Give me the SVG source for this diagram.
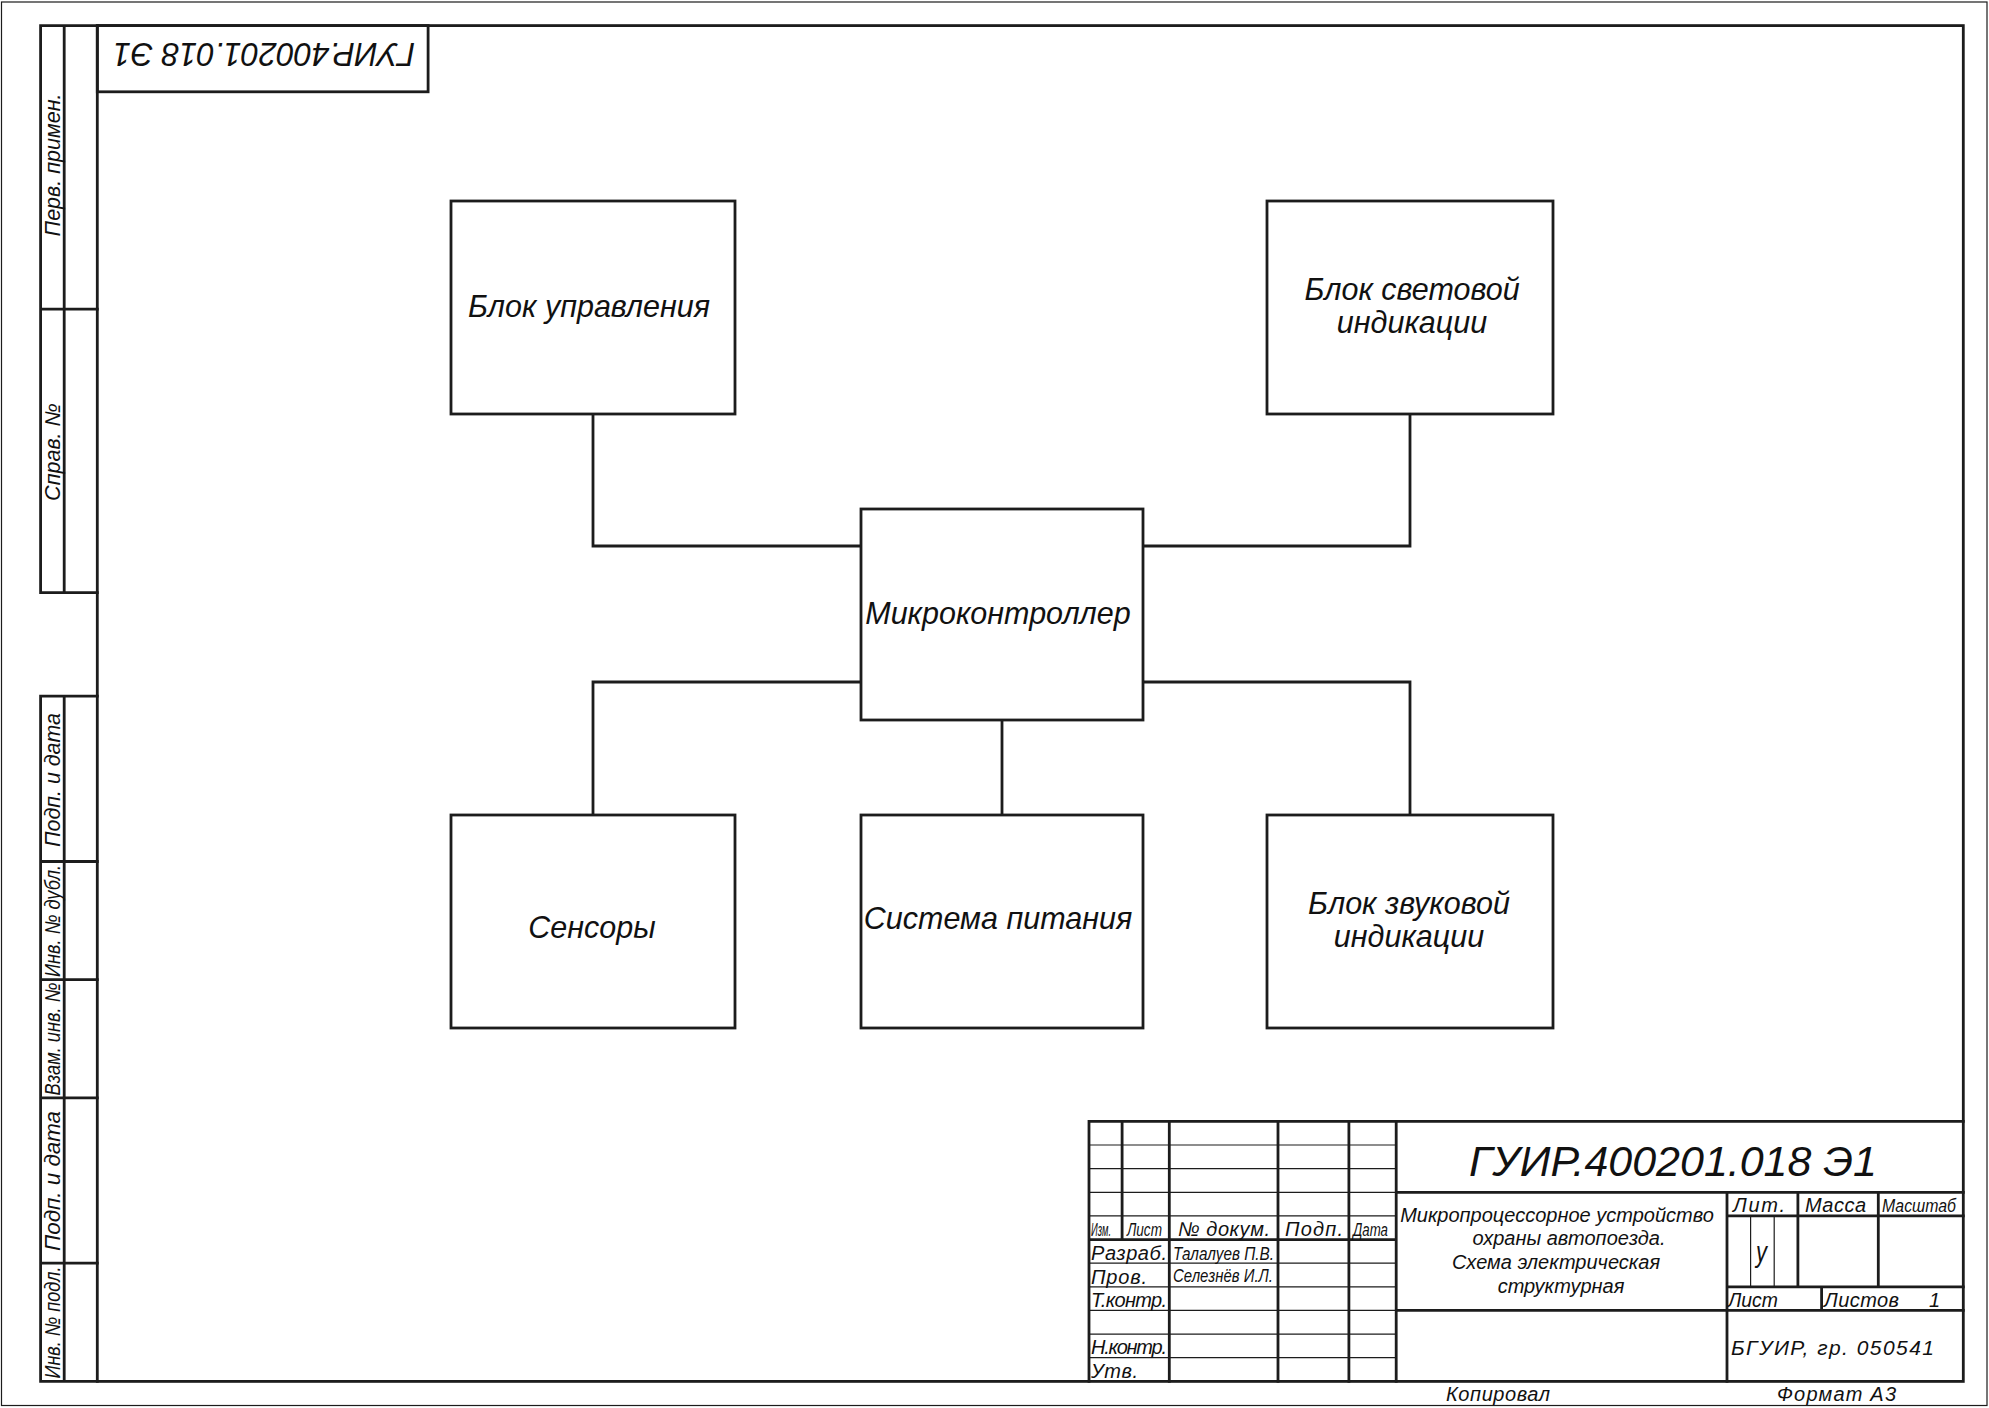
<svg xmlns="http://www.w3.org/2000/svg" width="1989" height="1408" viewBox="0 0 1989 1408">
  <style>
    .k { stroke: #1c1c1c; stroke-width: 2.8; fill: none; stroke-linecap: square; }
    .t { stroke: #1c1c1c; stroke-width: 1.2; fill: none; }
    .box { stroke: #1c1c1c; stroke-width: 2.8; fill: #ffffff; }
    text { font-family: "Liberation Sans", Arial, sans-serif; font-style: italic; fill: #111111; }
    .lbl { font-size: 30.5px; text-anchor: middle; }
    .side { font-size: 21.5px; text-anchor: middle; }
    .tb { font-size: 20px; }
  </style>

  <rect x="0" y="0" width="1989" height="1408" fill="#ffffff"/>

  <!-- sheet trim line and drawing frame -->
  <g id="frame">
    <rect class="t" x="1.5" y="2" width="1985.5" height="1403.5"/>
    <rect class="k" x="97.3" y="25.6" width="1866" height="1355.8"/>
    <!-- rotated designation box, upper left -->
    <rect class="k" x="97.3" y="25.6" width="330.8" height="66.2"/>
    <text transform="rotate(180 264 54.7)" x="264" y="66.7" font-size="33" text-anchor="middle" textLength="302" lengthAdjust="spacingAndGlyphs">ГУИР.400201.018 Э1</text>
  </g>

  <!-- left margin columns -->
  <g id="side-top">
    <path class="k" d="M97.3 25.6 H40.6 V592.7 H97.3 M64.2 25.6 V592.7 M40.6 309.2 H97.3"/>
    <text class="side" transform="rotate(-90 59.5 165)" x="59.5" y="165">Перв. примен.</text>
    <text class="side" transform="rotate(-90 59.5 452)" x="59.5" y="452">Справ. №</text>
  </g>
  <g id="side-bottom">
    <path class="k" d="M97.3 696.1 H40.6 V1381.4 H97.3 M64.2 696.1 V1381.4 M40.6 861.5 H97.3 M40.6 979.7 H97.3 M40.6 1097.8 H97.3 M40.6 1263.2 H97.3"/>
    <text class="side" transform="rotate(-90 59.5 780)" x="59.5" y="780" textLength="134" lengthAdjust="spacingAndGlyphs">Подп. и дата</text>
    <text class="side" transform="rotate(-90 59.5 921)" x="59.5" y="921" textLength="112" lengthAdjust="spacingAndGlyphs">Инв. № дубл.</text>
    <text class="side" transform="rotate(-90 59.5 1039)" x="59.5" y="1039" textLength="113" lengthAdjust="spacingAndGlyphs">Взам. инв. №</text>
    <text class="side" transform="rotate(-90 59.5 1181)" x="59.5" y="1181" textLength="140" lengthAdjust="spacingAndGlyphs">Подп. и дата</text>
    <text class="side" transform="rotate(-90 59.5 1322.5)" x="59.5" y="1322.5" textLength="112" lengthAdjust="spacingAndGlyphs">Инв. № подл.</text>
  </g>

  <!-- connectors -->
  <g id="connectors">
    <polyline class="k" points="593,414 593,546 861,546"/>
    <polyline class="k" points="1410,414 1410,546 1143,546"/>
    <polyline class="k" points="861,682 593,682 593,815"/>
    <polyline class="k" points="1143,682 1410,682 1410,815"/>
    <line class="k" x1="1002" y1="720" x2="1002" y2="815"/>
  </g>

  <!-- blocks -->
  <g id="control-unit">
    <rect class="box" x="451" y="201" width="284" height="213"/>
    <text class="lbl" x="589" y="317">Блок управления</text>
  </g>
  <g id="light-indication">
    <rect class="box" x="1267" y="201" width="286" height="213"/>
    <text class="lbl" x="1412" y="300">Блок световой</text>
    <text class="lbl" x="1412" y="333">индикации</text>
  </g>
  <g id="mcu">
    <rect class="box" x="861" y="509" width="282" height="211"/>
    <text class="lbl" x="998" y="624">Микроконтроллер</text>
  </g>
  <g id="sensors">
    <rect class="box" x="451" y="815" width="284" height="213"/>
    <text class="lbl" x="592" y="938">Сенсоры</text>
  </g>
  <g id="power">
    <rect class="box" x="861" y="815" width="282" height="213"/>
    <text class="lbl" x="998" y="929">Система питания</text>
  </g>
  <g id="sound-indication">
    <rect class="box" x="1267" y="815" width="286" height="213"/>
    <text class="lbl" x="1409" y="914">Блок звуковой</text>
    <text class="lbl" x="1409" y="947">индикации</text>
  </g>

  <!-- title block -->
  <g id="title-block">
    <!-- thin row lines, left part -->
    <path class="t" d="M1089 1145 H1396.2 M1089 1168.7 H1396.2 M1089 1192.3 H1396.2 M1089 1215.9 H1396.2 M1089 1263.2 H1396.2 M1089 1286.8 H1396.2 M1089 1310.4 H1396.2 M1089 1334.1 H1396.2 M1089 1357.7 H1396.2"/>
    <!-- thick lines -->
    <path class="k" d="M1089 1121.4 H1963.3 M1089 1121.4 V1381.4 M1089 1239.6 H1396.2 M1122.1 1121.4 V1239.6 M1169.3 1121.4 V1381.4 M1278 1121.4 V1381.4 M1348.9 1121.4 V1381.4 M1396.2 1121.4 V1381.4 M1396.2 1192.3 H1963.3 M1396.2 1310.4 H1963.3 M1727 1192.3 V1381.4 M1727 1215.9 H1963.3 M1727 1286.8 H1963.3 M1797.9 1192.3 V1286.8 M1878.3 1192.3 V1286.8 M1821.6 1286.8 V1310.4"/>
    <!-- letter cells -->
    <path class="t" d="M1750.6 1215.9 V1286.8 M1774.2 1215.9 V1286.8"/>

    <text x="1091" y="1236" font-size="18" textLength="20" lengthAdjust="spacingAndGlyphs">Изм.</text>
    <text x="1127" y="1236" font-size="18" textLength="35" lengthAdjust="spacingAndGlyphs">Лист</text>
    <text class="tb" x="1178" y="1236" font-size="21" textLength="92" lengthAdjust="spacing">№ докум.</text>
    <text class="tb" x="1285" y="1236" font-size="21" textLength="58" lengthAdjust="spacing">Подп.</text>
    <text x="1353" y="1236" font-size="18" textLength="35" lengthAdjust="spacingAndGlyphs">Дата</text>

    <text class="tb" x="1091" y="1259.5" textLength="76" lengthAdjust="spacing">Разраб.</text>
    <text x="1173" y="1259.5" font-size="18" textLength="101" lengthAdjust="spacingAndGlyphs">Талалуев П.В.</text>
    <text class="tb" x="1091" y="1284" font-size="21" textLength="56" lengthAdjust="spacing">Пров.</text>
    <text x="1173" y="1281.5" font-size="17.5" textLength="100" lengthAdjust="spacingAndGlyphs">Селезнёв И.Л.</text>
    <text class="tb" x="1091" y="1307" textLength="76" lengthAdjust="spacing">Т.контр.</text>
    <text class="tb" x="1091" y="1354" textLength="76" lengthAdjust="spacing">Н.контр.</text>
    <text class="tb" x="1091" y="1378" textLength="47" lengthAdjust="spacing">Утв.</text>

    <text x="1469" y="1176" font-size="42" textLength="408" lengthAdjust="spacingAndGlyphs">ГУИР.400201.018 Э1</text>

    <g font-size="20" text-anchor="middle">
      <text x="1557" y="1221.5">Микропроцессорное устройство</text>
      <text x="1569" y="1244.5">охраны автопоезда.</text>
      <text x="1556" y="1268.5">Схема электрическая</text>
      <text x="1561" y="1293">структурная</text>
    </g>

    <text x="1733" y="1212" font-size="20" textLength="52" lengthAdjust="spacing">Лит.</text>
    <text x="1805" y="1212" font-size="20" textLength="61" lengthAdjust="spacing">Масса</text>
    <text x="1882" y="1212" font-size="19" textLength="74" lengthAdjust="spacingAndGlyphs">Масштаб</text>
    <text x="1756" y="1262" font-size="30" textLength="11" lengthAdjust="spacingAndGlyphs" font-style="normal">у</text>
    <text x="1728" y="1307" font-size="20" textLength="50" lengthAdjust="spacingAndGlyphs">Лист</text>
    <text x="1824" y="1307" font-size="20" textLength="75" lengthAdjust="spacing">Листов</text>
    <text x="1929" y="1307" font-size="20">1</text>
    <text x="1731" y="1355" font-size="21" textLength="203" lengthAdjust="spacing">БГУИР, гр. 050541</text>
  </g>

  <!-- captions under the frame -->
  <g id="footer">
    <text x="1446" y="1401" font-size="20" textLength="104" lengthAdjust="spacing">Копировал</text>
    <text x="1777" y="1401" font-size="20" textLength="119" lengthAdjust="spacing">Формат А3</text>
  </g>
</svg>
